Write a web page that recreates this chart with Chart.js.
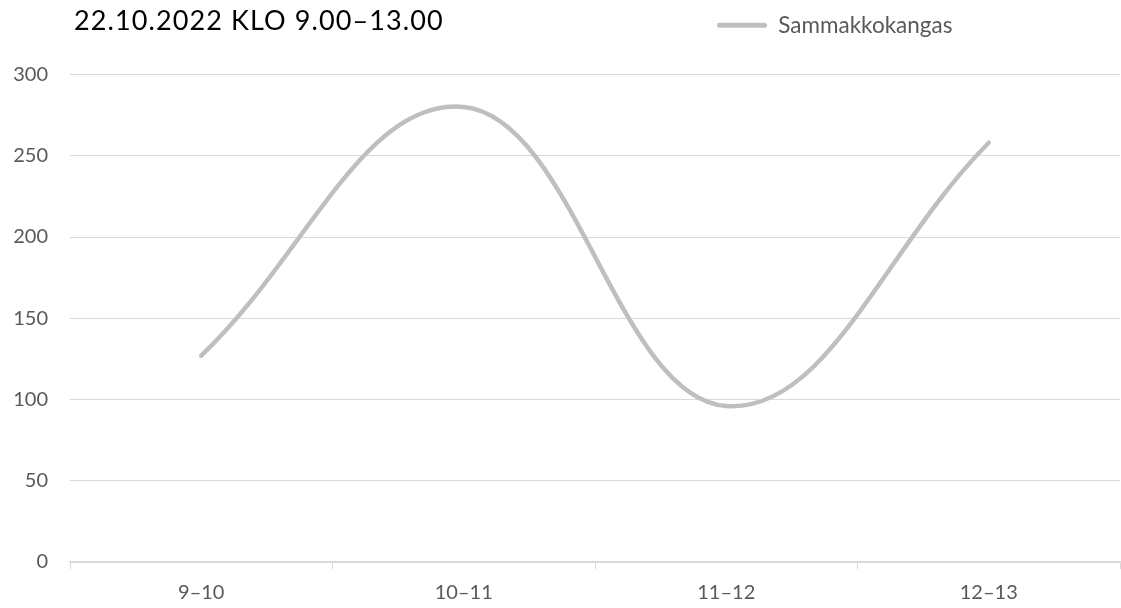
<!DOCTYPE html>
<html>
<head>
<meta charset="utf-8">
<script src="https://cdn.jsdelivr.net/npm/chart.js@4/dist/chart.umd.min.js"></script>
<style>
  html, body { margin: 0; padding: 0; background: #ffffff; }
  #wrap { position: relative; width: 1121px; height: 608px; }
  #title { position: absolute; left: 74px; top: 6px; font-family: Lato, "Noto Sans", sans-serif; font-size: 27px; letter-spacing: 1.1px; line-height: 27px; color: #000000; white-space: nowrap; }
  canvas { position: absolute; left: 0; top: 0; }
</style>
</head>
<body>
<div id="wrap">
  <canvas id="c" width="1121" height="608"></canvas>
  <div id="title">22.10.2022 KLO 9.00–13.00</div>
</div>
<script>
const categories = ['9–10', '10–11', '11–12', '12–13'];
const seriesName = 'Sammakkokangas';
const sammakkokangas = [127, 280, 96, 258];
const yMin = 0, yMax = 300, yStep = 50;

const lineColor = '#bfbfbf';
const gridColor = '#d9d9d9';
const textColor = '#595959';

const legendPlace = {
  id: 'legendPlace',
  afterLayout(chart) {
    const lg = chart.legend;
    if (lg) {
      const w = lg.right - lg.left;
      lg.left = 707;
      lg.right = 707 + w;
      lg.top = 4;
      lg.bottom = 4 + 42;
    }
  }
};

new Chart(document.getElementById('c'), {
  type: 'line',
  data: {
    labels: categories,
    datasets: [{
      label: seriesName,
      data: sammakkokangas,
      borderColor: lineColor,
      backgroundColor: lineColor,
      borderWidth: 4.5,
      borderCapStyle: 'round',
      borderJoinStyle: 'round',
      pointRadius: 0,
      pointHoverRadius: 0,
      tension: 0.4,
      fill: false
    }]
  },
  options: {
    responsive: false,
    animation: false,
    layout: { padding: { top: 32, right: 1, bottom: 0, left: 0 } },
    plugins: {
      tooltip: { enabled: false },
      title: { display: false },
      legend: {
        display: true,
        position: 'top',
        align: 'start',
        labels: {
          font: { family: 'Lato', size: 22.5 },
          color: textColor,
          boxWidth: 50,
          boxHeight: 5,
          padding: 10,
          generateLabels(chart) {
            return chart.data.datasets.map((ds, i) => ({
              text: ds.label,
              fillStyle: ds.borderColor,
              strokeStyle: ds.borderColor,
              lineWidth: 0,
              borderRadius: 2.5,
              hidden: false,
              datasetIndex: i,
              fontColor: textColor
            }));
          }
        }
      }
    },
    scales: {
      x: {
        type: 'category',
        offset: true,
        afterFit(scale) { scale.height = 46; },
        grid: {
          offset: true,
          drawOnChartArea: false,
          drawTicks: true,
          tickLength: 7,
          color: gridColor,
          lineWidth: 1
        },
        border: { display: true, color: gridColor, width: 1.5 },
        ticks: {
          font: { family: 'Lato', size: 20 },
          color: textColor,
          padding: 12,
          maxRotation: 0
        }
      },
      y: {
        min: yMin,
        max: yMax,
        afterFit(scale) { scale.width = 70; },
        grid: { drawTicks: false, color: gridColor, lineWidth: 1 },
        border: { display: false },
        ticks: {
          stepSize: yStep,
          font: { family: 'Lato', size: 20 },
          color: textColor,
          padding: 22
        }
      }
    }
  },
  plugins: [legendPlace]
});
</script>
</body>
</html>
